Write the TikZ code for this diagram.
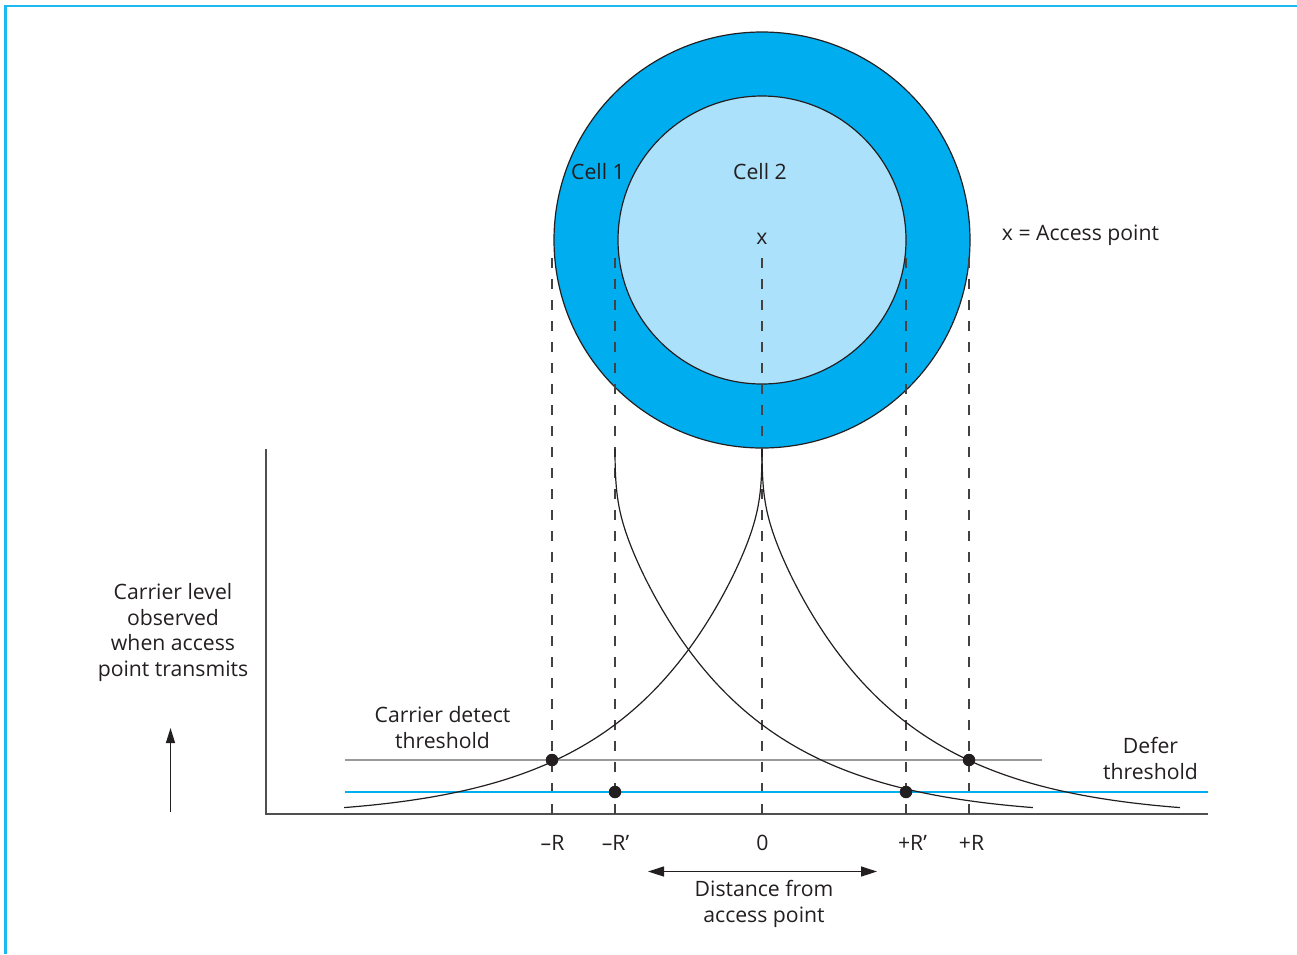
\documentclass[tikz,border=0pt]{standalone}
\usepackage{fontspec}
\setmainfont{Open Sans}
\usepackage{xcolor}
\usepackage{tikz}
\usetikzlibrary{arrows.meta,positioning,calc}

\definecolor{ink}{HTML}{231F20}
\definecolor{axisgray}{HTML}{4F4F4F}
\definecolor{outercell}{HTML}{00AEEF}
\definecolor{innercell}{HTML}{ABE1FA}
\definecolor{framecyan}{HTML}{1BB9F2}
\definecolor{defergray}{HTML}{9A9A9A}

\begin{document}
\begin{tikzpicture}[x=1pt, y=-1pt]
    % Define styles
    \tikzstyle{txt} = [font=\fontsize{21.2}{25.5}\selectfont, text=ink, align=center, inner sep=0pt]
    \tikzstyle{cell} = [circle, draw=ink, line width=1.2pt, inner sep=0pt]
    \tikzstyle{guide} = [draw=ink!85, line width=1.3pt, dash pattern=on 10pt off 11pt]
    \tikzstyle{curve} = [draw=ink, line width=1.2pt]
    \tikzstyle{hit} = [circle, fill=ink, inner sep=0pt, minimum size=12.5pt]
    \tikzstyle{axis} = [draw=axisgray, line width=1.8pt]
    \tikzstyle{pointer} = [draw=ink, line width=1.3pt]
    \tikzset{declare function={carrier(\t)=(300*exp(-\t*\t/122)+65*exp(-\t/1.5))*exp(-0.35*(\t*\t/400)^4);}}

    \useasboundingbox (0,0) rectangle (1297,954);
    \draw[framecyan, line width=2.8pt] (5.3,954) -- (5.3,6) -- (1297,6);

    % Cells
    \node[cell, fill=outercell, minimum size=416pt] (cellone) at (762,240) {};
    \node[cell, fill=innercell, minimum size=288pt] (celltwo) at (762,240) {};

    % Axes
    \coordinate (origin) at (266,814);
    \coordinate (ytop) at (266,449);
    \coordinate (xend) at (1208,814);
    \draw[axis] (ytop) -- (origin) -- (xend);

    % Ticks and guides
    \coordinate (guidetop) at (0,250);
    \coordinate (tmR) at (552,814);
    \coordinate (tmRp) at (615,814);
    \coordinate (tzero) at (762,814);
    \coordinate (tpRp) at (906,814);
    \coordinate (tpR) at (969,814);
    \draw[guide] (tmR) -- (tmR |- guidetop);
    \draw[guide] (tmRp) -- (tmRp |- guidetop);
    \draw[guide] (tzero) -- (tzero |- guidetop);
    \draw[guide] (tpRp) -- (tpRp |- guidetop);
    \draw[guide] (tpR) -- (tpR |- guidetop);

    % Thresholds
    \coordinate (carrierL) at (345,760);
    \coordinate (carrierR) at (1042,760);
    \coordinate (deferL) at (345,792);
    \coordinate (deferR) at (1208,792);
    \draw[defergray, line width=1.3pt] (carrierL) -- (carrierR);
    \draw[outercell, line width=1.3pt] (deferL) -- (deferR);

    % Carrier level curves
    \draw[curve, shift={(tzero)}] plot[domain=0:20.445, samples=120] ({\x*\x}, {-carrier(\x)});
    \draw[curve, shift={(tzero)}, xscale=-1] plot[domain=0:20.445, samples=120] ({\x*\x}, {-carrier(\x)});
    \draw[curve, shift={(tmRp)}] plot[domain=0:20.445, samples=120] ({\x*\x}, {-carrier(\x)});

    % Crossings
    \node[hit] (hitmR) at (552,760) {};
    \node[hit] (hitmRp) at (615,792) {};
    \node[hit] (hitpRp) at (906,792) {};
    \node[hit] (hitpR) at (969,760) {};

    % Labels
    \node[txt] (lblcellone) at (598,172) {Cell 1};
    \node[txt] (lblcelltwo) at (760,172) {Cell 2};
    \node[txt] (lblap) at (762,239) {x};
    \node[txt] (lblkey) at (1080.5,235) {x = Access point};
    \node[txt] (lbllevel) at (173,632.5) {Carrier level\\observed\\when access\\point transmits};
    \node[txt] (lbldetect) at (442.5,727.5) {Carrier detect\\threshold};
    \node[txt] (lbldefer) at (1150.5,758.5) {Defer\\threshold};
    \node[txt] (lblmR) at (552.5,843) {–R};
    \node[txt] (lblmRp) at (615.5,843) {–R’};
    \node[txt] (lblzero) at (762.5,843) {0};
    \node[txt] (lblpRp) at (912.5,843) {+R’};
    \node[txt] (lblpR) at (971.5,843) {+R};
    \node[txt] (lbldist) at (764,904) {Distance from\\access point};

    % Arrows
    \coordinate (levelfoot) at (170.5,812);
    \coordinate (levelhead) at (170.5,728);
    \coordinate (distL) at (648,871.5);
    \coordinate (distR) at (877,871.5);
    \draw[pointer, -{Triangle[length=15pt, width=9pt]}] (levelfoot) -- (levelhead);
    \draw[pointer, {Triangle[length=16pt, width=10pt]}-{Triangle[length=16pt, width=10pt]}] (distL) -- (distR);

\end{tikzpicture}
\end{document}
